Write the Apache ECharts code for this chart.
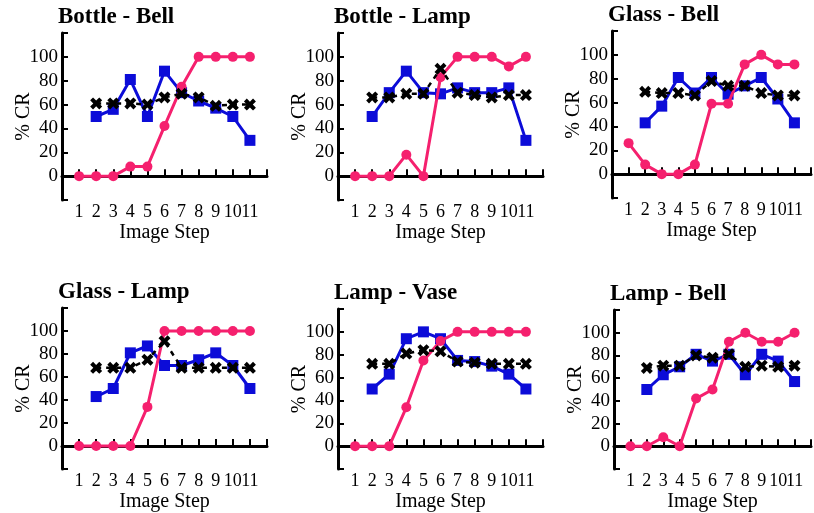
<!DOCTYPE html>
<html>
<head>
<meta charset="utf-8">
<script src="https://cdn.jsdelivr.net/npm/echarts@6/dist/echarts.min.js"></script>
<style>
  html, body { margin: 0; padding: 0; background: #fff; }
  #main { width: 814px; height: 513px; }
</style>
</head>
<body>
<div id="main"></div>
<script>
// panel titles
const titles = ['Bottle - Bell', 'Bottle - Lamp', 'Glass - Bell', 'Glass - Lamp', 'Lamp - Vase', 'Lamp - Bell']
// image steps 1..11
const steps = [1, 2, 3, 4, 5, 6, 7, 8, 9, 10, 11]
const yTicks = [0, 20, 40, 60, 80, 100]

// pink circles (step 1..11)
const pinkBottleBell = [0, 0, 0, 8, 8, 42, 75, 100, 100, 100, 100]
const pinkBottleLamp = [0, 0, 0, 18, 0, 83, 100, 100, 100, 92, 100]
const pinkGlassBell  = [26, 8, 0, 0, 8, 59, 59, 92, 100, 92, 92]
const pinkGlassLamp  = [0, 0, 0, 0, 34, 100, 100, 100, 100, 100, 100]
const pinkLampVase   = [0, 0, 0, 34, 75, 92, 100, 100, 100, 100, 100]
const pinkLampBell   = [0, 0, 8, 0, 42, 50, 92, 100, 92, 92, 100]

// blue squares (step 2..11)
const blueBottleBell = [50, 56, 81, 50, 88, 70, 63, 57, 50, 30]
const blueBottleLamp = [50, 70, 88, 70, 69, 74, 70, 70, 74, 30]
const blueGlassBell  = [43, 57, 81, 68, 81, 67, 74, 81, 63, 43]
const blueGlassLamp  = [43, 50, 81, 87, 70, 70, 75, 81, 70, 50]
const blueLampVase   = [50, 63, 94, 100, 94, 75, 74, 70, 63, 50]
const blueLampBell   = [50, 63, 70, 81, 75, 81, 63, 81, 75, 57]

// black crosses (step 2..11)
const crossBottleBell = [61, 61, 61, 60, 66, 69, 66, 59, 60, 60]
const crossBottleLamp = [66, 66, 69, 69, 90, 70, 68, 66, 68, 68]
const crossGlassBell  = [69, 68, 68, 66, 78, 74, 74, 68, 66, 66]
const crossGlassLamp  = [68, 68, 68, 75, 91, 68, 68, 68, 68, 68]
const crossLampVase   = [72, 72, 81, 84, 83, 74, 73, 72, 72, 72]
const crossLampBell   = [69, 71, 71, 80, 78, 81, 70, 71, 70, 71]

const pinkList = [pinkBottleBell, pinkBottleLamp, pinkGlassBell, pinkGlassLamp, pinkLampVase, pinkLampBell]
const blueList = [blueBottleBell, blueBottleLamp, blueGlassBell, blueGlassLamp, blueLampVase, blueLampBell]
const crossList = [crossBottleBell, crossBottleLamp, crossGlassBell, crossGlassLamp, crossLampVase, crossLampBell]

// plot boxes: left, top, width, height
const boxes = [
  [62, 33, 205, 167],
  [338, 33, 205, 167],
  [612, 31, 205, 167],
  [62, 308, 205, 166],
  [338, 309, 205, 166],
  [614, 310, 205, 166]
]

const font = 'Liberation Serif'
const pink = '#f5206e'
const blue = '#0c0cd8'
const crossPath = 'path://M0,2.4L2.4,0L5,2.6L7.6,0L10,2.4L7.4,5L10,7.6L7.6,10L5,7.4L2.4,10L0,7.6L2.6,5Z'

const pairs = (arr, start) => arr.map((v, i) => [steps[i + start], v])

let grid = [], xAxis = [], yAxis = [], series = [], title = []

boxes.forEach((b, i) => {
  grid.push({ left: b[0], top: b[1], width: b[2], height: b[3] })
  title.push({
    text: titles[i], left: b[0] - 4, top: b[1] - 27, padding: 0,
    textStyle: { fontFamily: font, fontSize: 23, fontWeight: 'bold', color: '#000' }
  })
  xAxis.push({
    type: 'value', gridIndex: i, min: 0, max: 12, interval: 1,
    name: 'Image Step', nameLocation: 'middle', nameGap: 23, nameMoveOverlap: false,
    nameTextStyle: { fontFamily: font, fontSize: 20, color: '#000' },
    axisLine: { lineStyle: { color: '#000', width: 3 } },
    axisTick: { inside: true, length: 7, lineStyle: { color: '#000', width: 2 } },
    axisLabel: {
      fontFamily: font, fontSize: 18, color: '#000', margin: 3,
      formatter: v => (v >= 1 && v <= 11 ? String(v) : '')
    },
    splitLine: { show: false }
  })
  yAxis.push({
    type: 'value', gridIndex: i, min: -20, max: 120, interval: 20,
    name: '% CR', nameLocation: 'middle', nameGap: 28, nameRotate: 90, nameMoveOverlap: false,
    nameTextStyle: { fontFamily: font, fontSize: 20, color: '#000' },
    axisLine: { lineStyle: { color: '#000', width: 3 } },
    axisTick: { inside: true, length: 6, lineStyle: { color: '#000', width: 2 } },
    axisLabel: {
      fontFamily: font, fontSize: 19, color: '#000', margin: 4,
      customValues: yTicks
    },
    splitLine: { show: false }
  })
  series.push({
    type: 'line', xAxisIndex: i, yAxisIndex: i, data: pairs(pinkList[i], 0),
    symbol: 'circle', symbolSize: 10, z: 3,
    lineStyle: { color: pink, width: 3 }, itemStyle: { color: pink }
  })
  series.push({
    type: 'line', xAxisIndex: i, yAxisIndex: i, data: pairs(blueList[i], 1),
    symbol: 'rect', symbolSize: 11, z: 2,
    lineStyle: { color: blue, width: 3 }, itemStyle: { color: blue }
  })
  series.push({
    type: 'line', xAxisIndex: i, yAxisIndex: i, data: pairs(crossList[i], 1),
    symbol: crossPath, symbolSize: 12, z: 4,
    lineStyle: { color: '#000', width: 2.5, type: [5, 5] }, itemStyle: { color: '#000' }
  })
})

const chart = echarts.init(document.getElementById('main'))
chart.setOption({ animation: false, title, grid, xAxis, yAxis, series })
</script>
</body>
</html>
